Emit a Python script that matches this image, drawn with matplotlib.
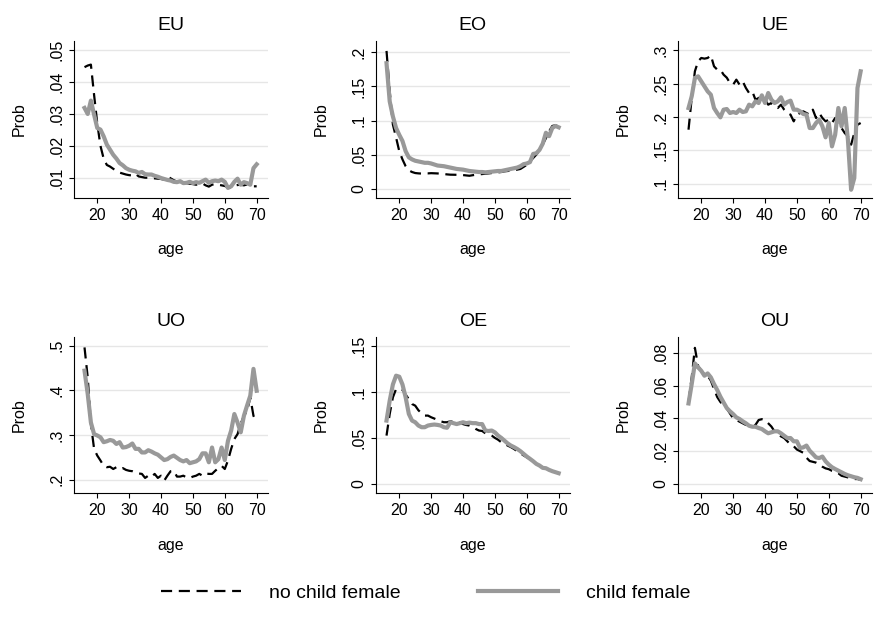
import numpy as np
import matplotlib
matplotlib.use("Agg")
import matplotlib.pyplot as plt

plt.rcParams['font.family'] = ['Liberation Sans', 'DejaVu Sans']

ages = list(range(16, 71))

panel_names = ["EU", "EO", "UE", "UO", "OE", "OU"]
series_names = ["no child female", "child female"]

# ---- EU ----
eu_nochild = [.0447, .0452, .0455, .036, .027, .020, .016, .014, .0135, .0128,
              .0122, .0116, .0113, .011, .0108, .0107, .0112, .0104, .0102, .0100,
              .0100, .0099, .0098, .0097, .0096, .0094, .0105, .0098, .0092, .0088,
              .0086, .0085, .0083, .0081, .0080, .0078, .0080, .0082, .0076, .0072,
              .0078, .0080, .0078, .0076, .0074, .0070, .0068, .0075, .0077, .0078,
              .0076, .0079, .0075, .0073, .0073]
eu_child = [.0319, .0300, .0342, .0298, .0256, .0251, .0230, .0204, .0188, .0172,
            .0160, .0146, .0139, .0130, .0125, .0122, .0120, .0115, .0118, .0111,
            .0110, .0110, .0106, .0103, .0099, .0096, .0093, .0091, .0087, .0086,
            .0089, .0083, .0084, .0087, .0083, .0086, .0084, .0089, .0094, .0084,
            .0089, .0091, .0089, .0094, .0087, .0068, .0073, .0087, .0097, .0078,
            .0086, .0083, .0078, .0130, .0142]

# ---- EO ----
eo_nochild = [.202, .143, .094, .075, .055, .043, .033, .027, .0245, .023,
              .0225, .0222, .0225, .0225, .0228, .0226, .0224, .022, .0215, .021,
              .0206, .0205, .0204, .0202, .020, .0195, .019, .0198, .0205, .021,
              .0215, .022, .0225, .023, .0235, .024, .0245, .0255, .026, .0265,
              .027, .028, .029, .032, .035, .040, .045, .050, .057, .065,
              .074, .084, .092, .093, .091]
eo_child = [.184, .128, .106, .089, .079, .070, .055, .046, .043, .041,
            .040, .039, .038, .038, .037, .0355, .034, .0335, .033, .032,
            .031, .030, .029, .0285, .028, .027, .026, .0255, .025, .0245,
            .0245, .024, .0245, .025, .0255, .026, .026, .027, .028, .029,
            .030, .031, .033, .036, .037, .039, .051, .052, .057, .066,
            .082, .077, .089, .092, .090]

# ---- UE ----
ue_nochild = [.181, .2285, .2685, .2835, .2885, .2875, .2885, .2925, .276, .271,
              .271, .2635, .259, .251, .2485, .256, .2485, .2535, .2435, .236,
              .2385, .226, .2285, .231, .226, .2185, .221, .216, .2135, .2185,
              .211, .206, .2035, .1935, .2035, .206, .2085, .206, .2035, .211,
              .1985, .206, .1985, .1935, .196, .191, .1985, .186, .1835, .176,
              .171, .1585, .176, .1885, .191]
ue_child = [.2135, .231, .2585, .261, .2535, .246, .2385, .2335, .2135, .206,
            .1995, .211, .212, .206, .2075, .206, .211, .2075, .2085, .2185,
            .216, .2235, .221, .2325, .221, .236, .226, .221, .2235, .2295,
            .2185, .2225, .2245, .211, .211, .2085, .2045, .2035, .1835, .1835,
            .191, .196, .186, .1695, .191, .156, .1735, .2135, .186, .2135,
            .166, .091, .1085, .2435, .2685]

# ---- UO ----
uo_nochild = [.496, .429, .325, .269, .254, .243, .231, .228, .229, .224,
              .228, .224, .226, .222, .220, .219, .216, .214, .213, .204,
              .209, .206, .213, .204, .209, .198, .209, .219, .220, .207,
              .207, .209, .205, .204, .207, .209, .213, .209, .214, .213,
              .213, .220, .226, .231, .224, .243, .269, .291, .302, .325,
              .343, .354, .384, .343, .328]
uo_child = [.444, .392, .328, .302, .299, .295, .284, .286, .289, .287,
            .280, .284, .272, .273, .276, .281, .269, .269, .261, .261,
            .266, .263, .259, .256, .250, .244, .246, .251, .254, .249,
            .244, .241, .244, .237, .239, .241, .246, .259, .259, .239,
            .272, .239, .246, .272, .244, .287, .310, .347, .328, .306,
            .343, .366, .388, .448, .399]

# ---- OE ----
oe_nochild = [.0525, .076, .094, .103, .103, .102, .097, .092, .0868, .085,
              .080, .0767, .0742, .0742, .0724, .071, .0695, .068, .067, .067,
              .068, .0675, .067, .0665, .065, .064, .0634, .062, .0597, .058,
              .0575, .055, .054, .0525, .050, .048, .0453, .0435, .0417, .040,
              .038, .0355, .0334, .031, .029, .027, .0254, .022, .020, .018,
              .0164, .0153, .0139, .0128, .0117]
oe_child = [.0688, .0904, .108, .1175, .1164, .108, .094, .076, .0688, .067,
            .0634, .0616, .0616, .0634, .0641, .0645, .0641, .0634, .0616, .061,
            .067, .066, .065, .066, .067, .066, .0666, .066, .066, .065,
            .065, .058, .0575, .058, .056, .0525, .050, .047, .044, .0417,
            .040, .038, .0356, .0327, .0298, .0273, .0247, .0218, .020, .0175,
            .0171, .0153, .0139, .0128, .0117]

# ---- OU ----
ou_nochild = [.050, .065, .083, .072, .069, .067, .066, .063, .058, .053,
              .050, .048, .046, .043, .040, .039, .038, .037, .036, .036,
              .0355, .036, .039, .0395, .039, .037, .035, .032, .031, .029,
              .028, .026, .024, .023, .021, .020, .019, .016, .014, .0135,
              .013, .012, .0105, .0095, .009, .008, .0075, .0065, .005, .0045,
              .004, .0035, .003, .003, .0025]
ou_child = [.0491, .0609, .0735, .0711, .069, .066, .0674, .065, .0609, .0573,
            .0532, .0497, .0463, .0443, .0426, .0406, .0396, .0382, .037, .0355,
            .0349, .0349, .0341, .0335, .0321, .0309, .0315, .0321, .0321, .0309,
            .0294, .028, .028, .026, .026, .0219, .0223, .0234, .0203, .0183,
            .0162, .0158, .0167, .0138, .0118, .0102, .0091, .0081, .0071, .0061,
            .0053, .0047, .0041, .0037, .0029]

yticks = {
    "EU": [.01, .02, .03, .04, .05],
    "EO": [0, .05, .1, .15, .2],
    "UE": [.1, .15, .2, .25, .3],
    "UO": [.2, .3, .4, .5],
    "OE": [0, .05, .1, .15],
    "OU": [0, .02, .04, .06, .08],
}
ytick_labels = {
    "EU": [".01", ".02", ".03", ".04", ".05"],
    "EO": ["0", ".05", ".1", ".15", ".2"],
    "UE": [".1", ".15", ".2", ".25", ".3"],
    "UO": [".2", ".3", ".4", ".5"],
    "OE": ["0", ".05", ".1", ".15"],
    "OU": ["0", ".02", ".04", ".06", ".08"],
}
ylims = {
    "EU": (0.00363, 0.0530),
    "EO": (-0.0136, 0.217),
    "UE": (0.0786, 0.3144),
    "UO": (0.1696, 0.520),
    "OE": (-0.0101, 0.1598),
    "OU": (-0.0057, 0.0898),
}
xticks = [20, 30, 40, 50, 60, 70]

data = {
    "EU": (eu_nochild, eu_child),
    "EO": (eo_nochild, eo_child),
    "UE": (ue_nochild, ue_child),
    "UO": (uo_nochild, uo_child),
    "OE": (oe_nochild, oe_child),
    "OU": (ou_nochild, ou_child),
}

W, H = 875, 635
fig = plt.figure(figsize=(W / 100, H / 100), dpi=100)
fig.patch.set_facecolor('white')

col_left = [74, 376, 678]
ax_w = 193.5
row_top = [40.7, 336.7]
row_bot = [198.0, 493.3]

gray = '#999999'
lines_for_legend = None
for i, name in enumerate(panel_names):
    r, c = divmod(i, 3)
    left = col_left[c] / W
    bottom = 1 - row_bot[r] / H
    height = (row_bot[r] - row_top[r]) / H
    ax = fig.add_axes([left, bottom, ax_w / W, height])
    nc, ch = data[name]
    l1, = ax.plot(ages, nc, color='black', lw=1.6, dashes=(5, 3), zorder=3)
    l2, = ax.plot(ages, ch, color=gray, lw=3.0, zorder=4, solid_joinstyle='round')
    lines_for_legend = (l1, l2)
    ax.set_xlim(12.7, 73.4)
    ax.set_ylim(*ylims[name])
    ax.set_xticks(xticks)
    ax.set_xticklabels([str(t) for t in xticks])
    ax.set_yticks(yticks[name])
    ax.set_yticklabels(ytick_labels[name], rotation=90, va='center')
    for yv in yticks[name]:
        ax.axhline(yv, color='#e6e6e6', lw=1.0, zorder=1)
    ax.spines['top'].set_visible(False)
    ax.spines['right'].set_visible(False)
    ax.spines['left'].set_linewidth(0.8)
    ax.spines['bottom'].set_linewidth(0.8)
    ax.tick_params(axis='both', direction='out', length=3.6, width=0.8,
                   labelsize=11.5, pad=3.5)
    ax.set_title(name, fontsize=14, pad=7.5)
    ax.set_xlabel("age", fontsize=11.5, labelpad=14)
    ax.set_ylabel("Prob", fontsize=11.5, labelpad=16)

fig.legend(lines_for_legend, series_names, loc='center',
           bbox_to_anchor=(425.5 / W, 1 - 593 / H), ncol=2, frameon=False,
           fontsize=14, handlelength=4.1, handletextpad=1.44,
           columnspacing=4.0)

fig.savefig("out.png", dpi=100, facecolor='white')
